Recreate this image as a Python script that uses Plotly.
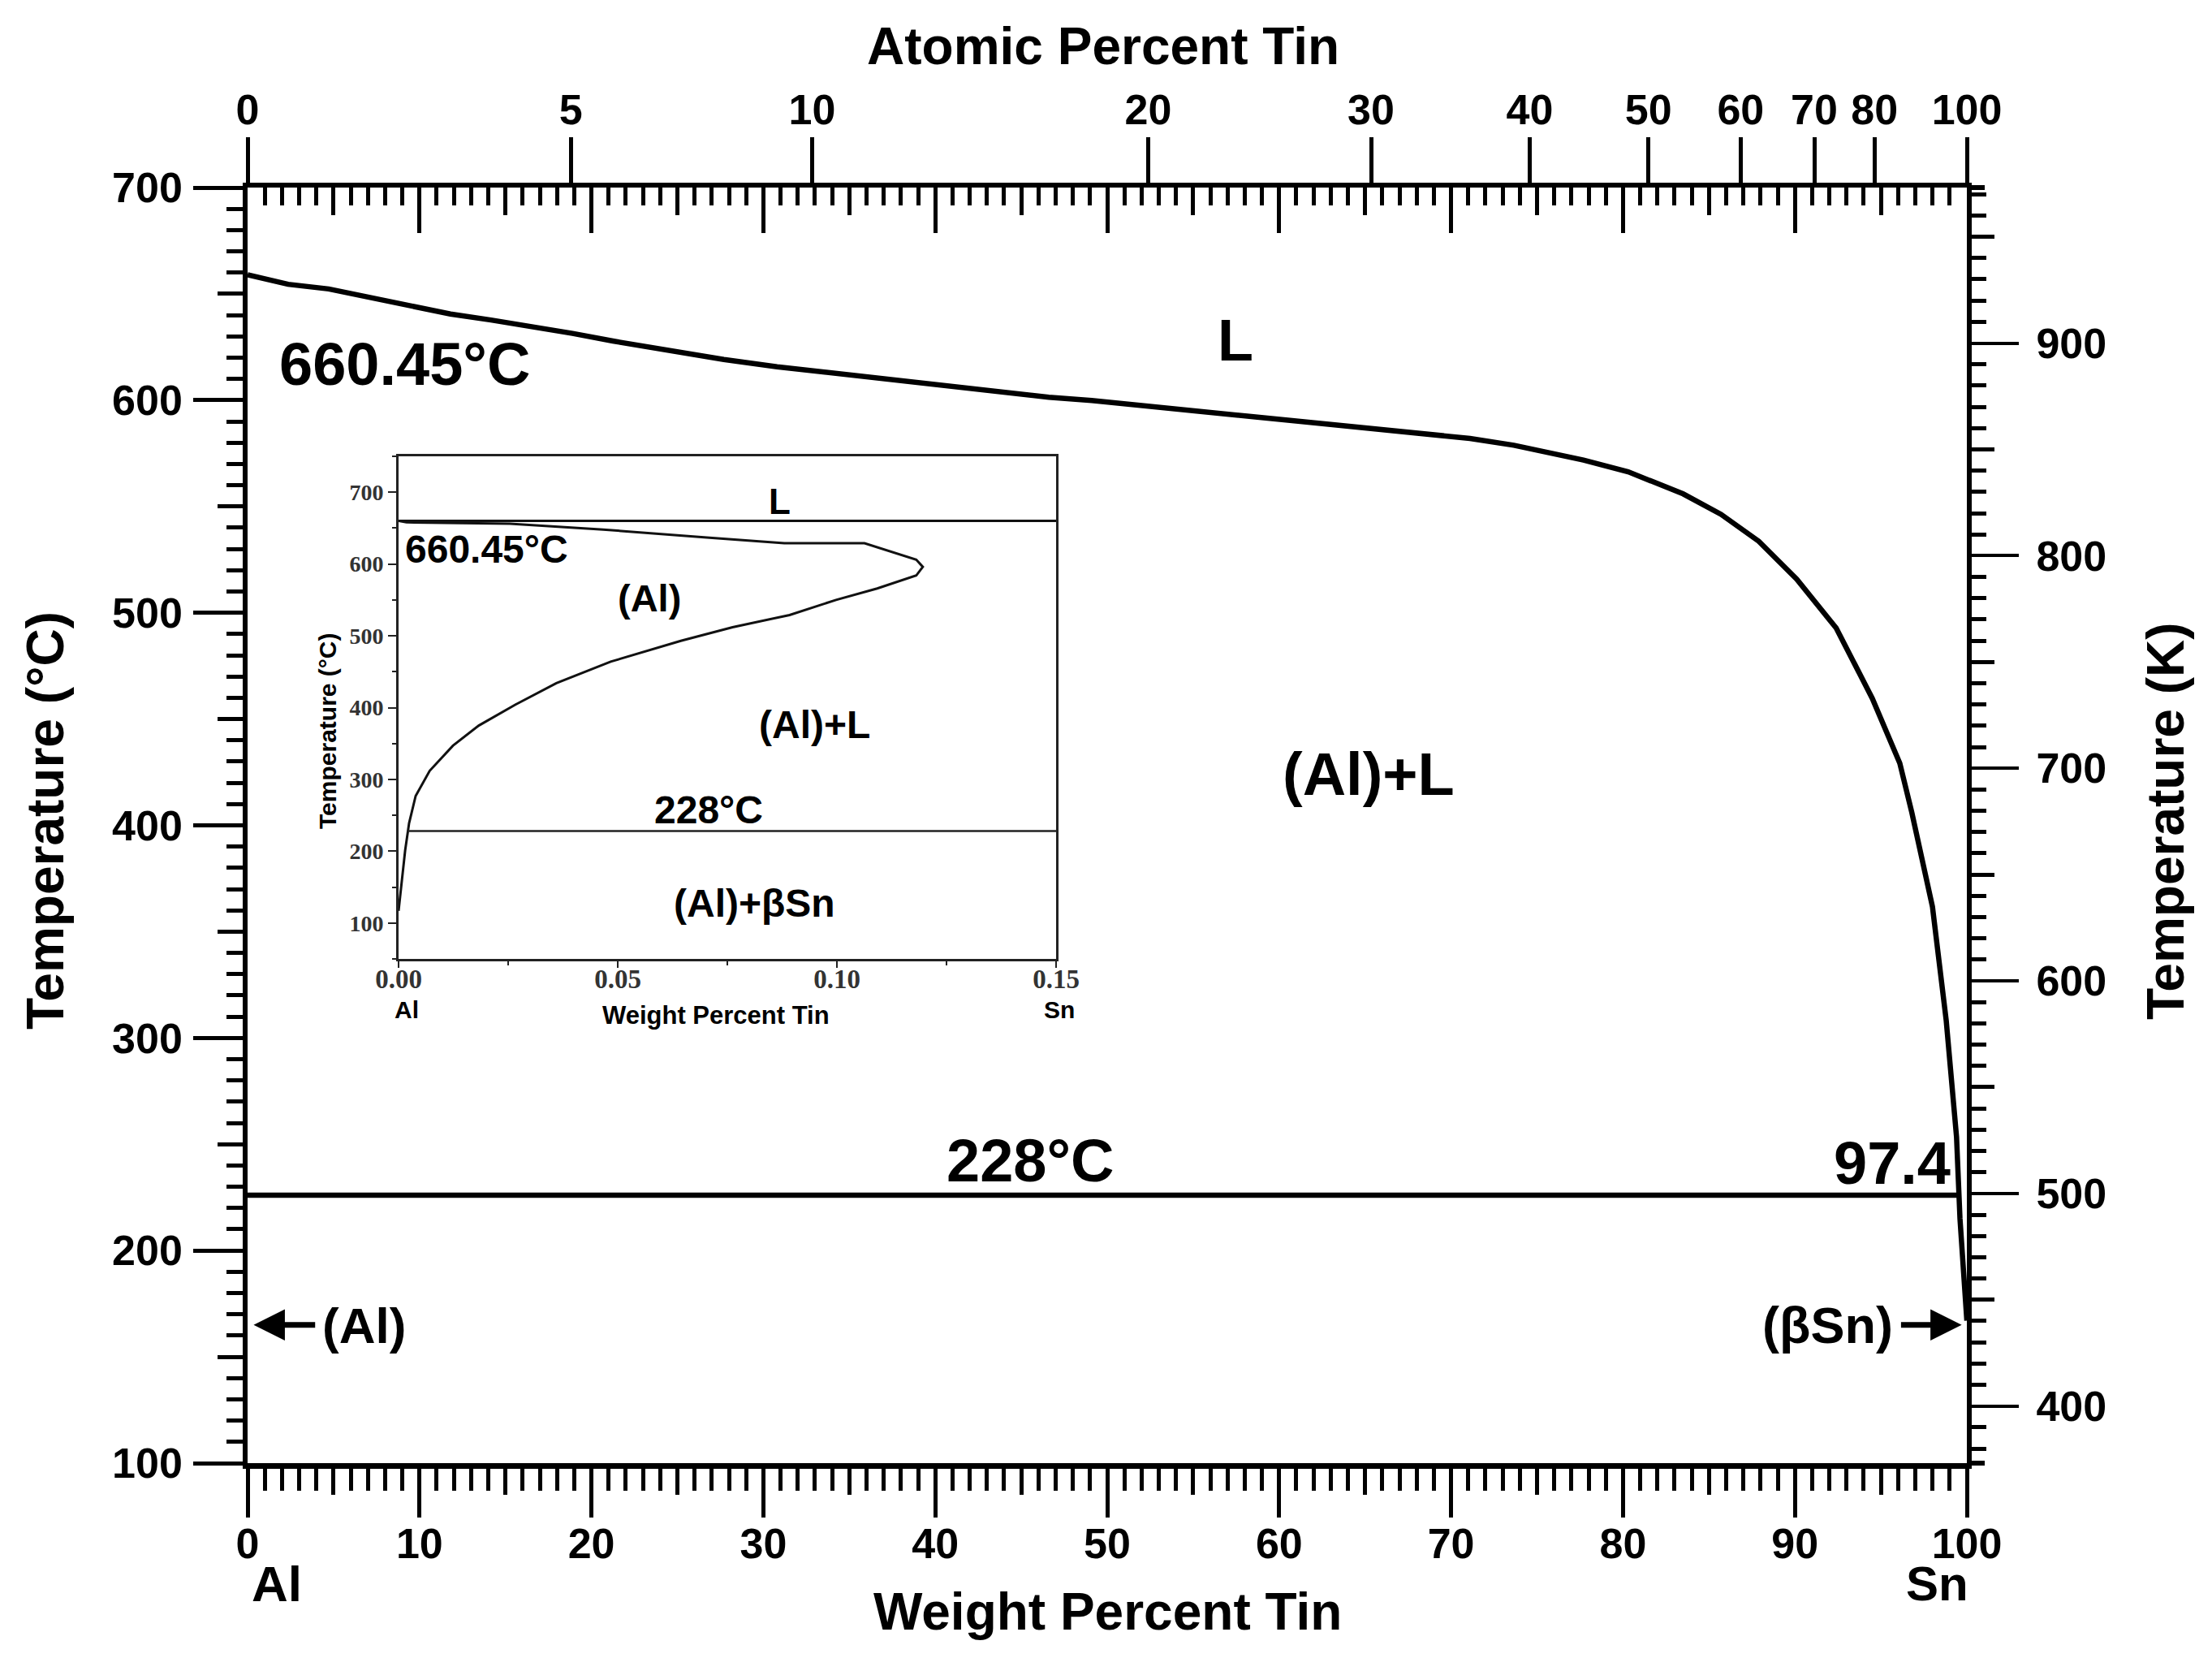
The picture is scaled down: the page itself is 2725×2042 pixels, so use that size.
"""Al-Sn binary phase diagram with the low-Sn solvus inset."""

import plotly.graph_objects as go

W, H = 2725, 2042
# the browser's default body margin pushes the plot 8 px right and down
PAGE_PAD = 8
PLOT_L, PLOT_R, PLOT_T, PLOT_B = 305, 2423, 231, 1802
INSET_L, INSET_R, INSET_T, INSET_B = 491, 1301, 562, 1181

SANS = "Liberation Sans"
SERIF = "Liberation Serif"

M_AL, M_SN = 26.98, 118.71

# main diagram
liquidus_wt = [0, 2.36, 4.72, 7.08, 9.44, 11.8, 14.16, 16.5, 18.9, 21.25, 24.55, 27.7, 30.8,
               34, 37.2, 40.3, 43.4, 46.6, 49.1, 52.3, 55.4, 58.5, 61.7, 64.8, 68, 71.1,
               73.65, 75.3, 77.7, 80.3, 83.5, 85.7, 87.9, 90.1, 92.4, 94.5, 96.1, 96.8,
               98, 98.8, 99.4, 99.6, 100]
liquidus_t = [659, 654.5, 652.3, 648.2, 644.1, 640.5, 637.7, 634.8, 631.4, 627.8, 623.4, 619.1,
              615.7, 612.8, 610, 607.4, 604, 601.4, 599.8, 597, 594.3, 592.2, 589.6, 587.1,
              584.9, 582, 578.8, 576.2, 571.8, 566.3, 555.9, 546.3, 533.6, 515.8, 492.8,
              459.7, 429.2, 406, 361.7, 308.2, 253.5, 215, 167]
eutectic_wt = [0, 99.43]
eutectic_t = [226, 226]

atomic_ticks = [0, 5, 10, 20, 30, 40, 50, 60, 70, 80, 100]
mid_wt_ticks = [5, 15, 25, 35, 45, 55, 65, 75, 85, 95]
mid_c_ticks = [150, 250, 350, 450, 550, 650]
mid_k_ticks = [450, 550, 650, 750, 850, 950]
corner_c_ticks = [100, 700]

# inset, low-Sn solvus
solvus_wt = [0, 0.0008, 0.0015, 0.0024, 0.0039, 0.0071, 0.0124, 0.0183, 0.0266, 0.036,
             0.0484, 0.0644, 0.0762, 0.0892, 0.0998, 0.1092, 0.1181, 0.1196, 0.1181,
             0.1063, 0.088, 0.0703, 0.0467, 0.0254, 0.0018, 0]
solvus_t = [117, 163, 201, 239, 277, 312, 347, 375, 404, 434, 464, 493, 512, 529, 550,
            566, 584, 596, 606, 629, 629, 637, 648, 656, 658, 660]
inset_melt_wt = [0, 0.15]
inset_melt_t = [660, 660]
inset_eut_wt = [0.002, 0.15]
inset_eut_t = [228, 228]


def at_to_wt(at):
    return 100 * at * M_SN / (at * M_SN + (100 - at) * M_AL)


def xdom(a, b):
    return [(a - PAGE_PAD) / W, (b - PAGE_PAD) / W]


def ydom(a, b):
    return [1 - (b - PAGE_PAD) / H, 1 - (a - PAGE_PAD) / H]


def label(fig, text, px, py, size, textangle=0, family=SANS):
    fig.add_annotation(
        text=text, x=(px - PAGE_PAD) / W, y=1 - (py - PAGE_PAD) / H, xref="paper", yref="paper",
        xanchor="center", yanchor="middle", showarrow=False, textangle=textangle,
        font=dict(family=family, size=size, color="black", weight="bold"),
    )


def arrow(fig, x_tip, x_tail, temp):
    fig.add_annotation(
        x=x_tip, y=temp, ax=x_tail, ay=temp, xref="x", yref="y", axref="x", ayref="y",
        text="", showarrow=True, arrowhead=2, arrowsize=1.1, arrowwidth=7,
        arrowcolor="black",
    )


fig = go.Figure()

fig.add_trace(go.Scatter(x=liquidus_wt, y=liquidus_t, mode="lines",
                         line=dict(color="black", width=6.5)))
fig.add_trace(go.Scatter(x=eutectic_wt, y=eutectic_t, mode="lines",
                         line=dict(color="black", width=6.5)))

fig.add_trace(go.Scatter(x=solvus_wt, y=solvus_t, mode="lines", xaxis="x7", yaxis="y6",
                         line=dict(color="#111111", width=3)))
fig.add_trace(go.Scatter(x=inset_melt_wt, y=inset_melt_t, mode="lines", xaxis="x7", yaxis="y6",
                         line=dict(color="#111111", width=3)))
fig.add_trace(go.Scatter(x=inset_eut_wt, y=inset_eut_t, mode="lines", xaxis="x7", yaxis="y6",
                         line=dict(color="#222222", width=2.5)))

# empty traces so the overlay axes get drawn
for xa, ya in [("x2", "y"), ("x3", "y"), ("x4", "y"), ("x5", "y"), ("x", "y2"), ("x", "y3"),
               ("x", "y4"), ("x", "y5")]:
    fig.add_trace(go.Scatter(x=[None], y=[None], xaxis=xa, yaxis=ya, showlegend=False))

main_x = dict(domain=xdom(PLOT_L, PLOT_R), range=[0, 100], showgrid=False, zeroline=False,
              tickcolor="black", automargin=False)
main_y = dict(domain=ydom(PLOT_T, PLOT_B), range=[100, 700], showgrid=False, zeroline=False,
              tickcolor="black", automargin=False)
tick_font = dict(family=SANS, size=52, color="black", weight="bold")

fig.update_layout(
    width=W, height=H, margin=dict(l=0, r=0, t=0, b=0), showlegend=False,
    paper_bgcolor="white", plot_bgcolor="white",
    # bottom: weight percent
    xaxis=dict(main_x, side="bottom", anchor="y", showline=True, linecolor="black", linewidth=7,
               ticks="outside", tick0=0, dtick=10, ticklen=60, tickwidth=5, tickfont=tick_font,
               ticklabelstandoff=-12,
               minor=dict(ticks="outside", dtick=1, tick0=0, ticklen=27, tickwidth=5,
                          tickcolor="black", showgrid=False)),
    xaxis3=dict(main_x, overlaying="x", side="bottom", anchor="y", ticks="outside",
                tickmode="array", tickvals=mid_wt_ticks, ticklen=38, tickwidth=5,
                showticklabels=False),
    # top: atomic percent out, weight percent in
    xaxis2=dict(main_x, overlaying="x", side="top", anchor="y", showline=True, linecolor="black",
                linewidth=5.5, ticks="outside", tickmode="array",
                tickvals=[at_to_wt(a) for a in atomic_ticks], ticktext=[str(a) for a in atomic_ticks],
                ticklen=56, tickwidth=5, tickfont=tick_font, ticklabelstandoff=-5),
    xaxis4=dict(main_x, overlaying="x", side="top", anchor="y", ticks="inside", tick0=0, dtick=10,
                ticklen=56, tickwidth=5, showticklabels=False,
                minor=dict(ticks="inside", dtick=1, tick0=0, ticklen=22, tickwidth=5,
                           tickcolor="black", showgrid=False)),
    xaxis5=dict(main_x, overlaying="x", side="top", anchor="y", ticks="inside", tickmode="array",
                tickvals=mid_wt_ticks, ticklen=34, tickwidth=5, showticklabels=False),
    # left: celsius
    yaxis=dict(main_y, side="left", anchor="x", showline=True, linecolor="black", linewidth=5.5,
               ticks="outside", tick0=0, dtick=100, ticklen=61, tickwidth=5, tickfont=tick_font,
               ticklabelstandoff=3,
               minor=dict(ticks="outside", dtick=10, tick0=0, ticklen=20, tickwidth=5,
                          tickcolor="black", showgrid=False)),
    yaxis3=dict(main_y, overlaying="y", side="left", anchor="x", ticks="outside", tickmode="array",
                tickvals=mid_c_ticks, ticklen=36, tickwidth=5, showticklabels=False),
    # right: kelvin
    yaxis2=dict(main_y, overlaying="y", side="right", anchor="x", range=[373.15, 973.15],
                showline=True, linecolor="black", linewidth=6, ticks="outside", tick0=0, dtick=100,
                ticklen=58, tickwidth=3.5, tickfont=tick_font, ticklabelstandoff=11,
                minor=dict(ticks="outside", dtick=10, tick0=0, ticklen=18, tickwidth=5,
                           tickcolor="black", showgrid=False)),
    yaxis4=dict(main_y, overlaying="y", side="right", anchor="x", range=[373.15, 973.15],
                ticks="outside", tickmode="array", tickvals=mid_k_ticks, ticklen=33, tickwidth=5,
                showticklabels=False),
    yaxis5=dict(main_y, overlaying="y", side="right", anchor="x", ticks="outside", tickmode="array",
                tickvals=corner_c_ticks, ticklen=21, tickwidth=6, showticklabels=False),
    # inset
    xaxis7=dict(domain=xdom(INSET_L, INSET_R), range=[0, 0.15], anchor="y6", showgrid=False,
                zeroline=False, showline=True, mirror=True, linecolor="#222222", linewidth=3,
                automargin=False,
                ticks="outside", tick0=0, dtick=0.05, ticklen=8, tickwidth=2, tickcolor="#222222",
                tickformat=".2f", ticklabelstandoff=-15,
                tickfont=dict(family=SERIF, size=33, color="#333333", weight="bold"),
                minor=dict(ticks="outside", dtick=0.025, tick0=0, ticklen=5, tickwidth=2,
                           tickcolor="#222222", showgrid=False)),
    yaxis6=dict(domain=ydom(INSET_T, INSET_B), range=[50, 750], anchor="x7", showgrid=False,
                zeroline=False, showline=True, mirror=True, linecolor="#222222", linewidth=3,
                automargin=False,
                ticks="outside", tick0=0, dtick=100, ticklen=10, tickwidth=2, tickcolor="#222222",
                ticklabelstandoff=0,
                tickfont=dict(family=SERIF, size=28, color="#333333", weight="bold"),
                minor=dict(ticks="outside", dtick=50, tick0=0, ticklen=5, tickwidth=2,
                           tickcolor="#222222", showgrid=False)),
)

label(fig, "Atomic Percent Tin", 1359, 57, 64)
label(fig, "Weight Percent Tin", 1364, 1985, 64)
label(fig, "Temperature (°C)", 56, 1011, 64, textangle=-90)
label(fig, "Temperature (K)", 2668, 1011, 64, textangle=-90)
label(fig, "660.45°C", 498, 448, 74)
label(fig, "L", 1522, 419, 72)
label(fig, "(Al)+L", 1686, 954, 74)
label(fig, "228°C", 1269, 1429, 74)
label(fig, "97.4", 2331, 1432, 74)
label(fig, "Al", 341, 1950, 62)
label(fig, "Sn", 2386, 1950, 60)
label(fig, "(Al)", 448, 1632, 62)
label(fig, "(βSn)", 2251, 1632, 63)

label(fig, "L", 961, 617, 44)
label(fig, "660.45°C", 599, 676, 48)
label(fig, "(Al)", 800, 736, 47)
label(fig, "(Al)+L", 1003, 892, 48)
label(fig, "228°C", 873, 997, 48)
label(fig, "(Al)+βSn", 929, 1112, 48)
label(fig, "Al", 501, 1243, 30)
label(fig, "Sn", 1305, 1243, 30)
label(fig, "Weight Percent Tin", 882, 1250, 31)
label(fig, "Temperature (°C)", 403, 901, 30, textangle=-90)

arrow(fig, 0.35, 4, 165)
arrow(fig, 99.7, 96.1, 165)

fig.write_html("out.html")
